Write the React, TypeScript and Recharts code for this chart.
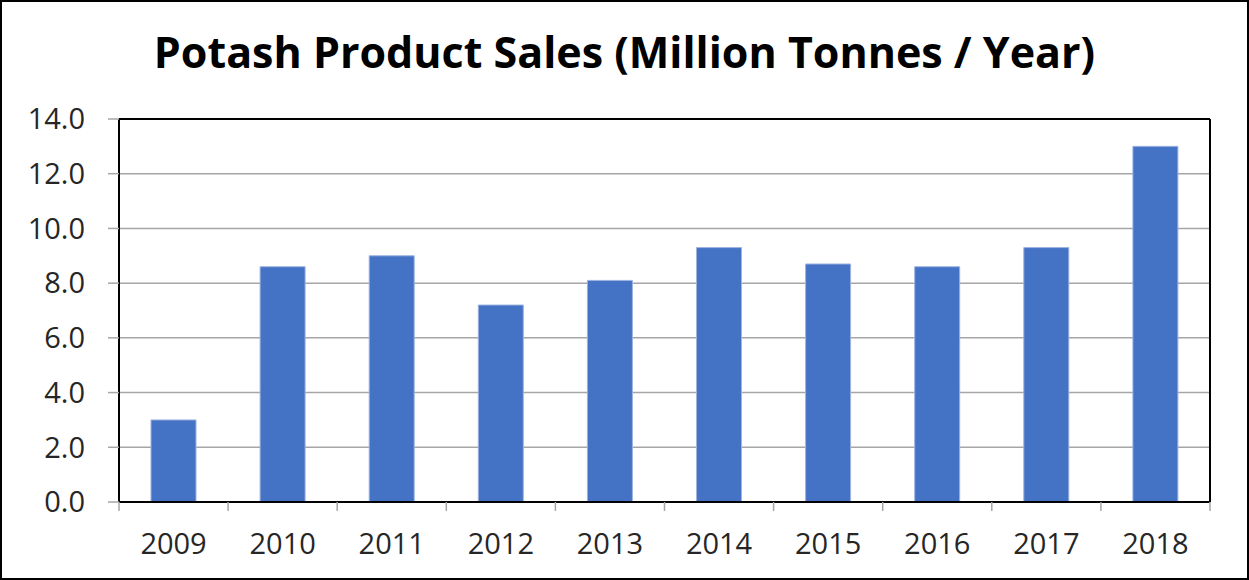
import React from 'react';
import { BarChart, Bar, XAxis, YAxis, CartesianGrid, ReferenceLine } from 'recharts';

const years = ['2009', '2010', '2011', '2012', '2013', '2014', '2015', '2016', '2017', '2018'];
const sales = [3.0, 8.6, 9.0, 7.2, 8.1, 9.3, 8.7, 8.6, 9.3, 13.0];
const yTicks = [0, 2, 4, 6, 8, 10, 12, 14];

const rows = years.map((year, i) => ({ year, sales: sales[i] }));

const FONT = '"Open Sans", sans-serif';
const GRID = '#a6a6a6';
const X_TICK = 9;
const X_MARGIN = 22;

// year label centred on the bar, tick marks on the category boundaries
const YearTick = (props: any) => {
  const { x, y, payload, index, visibleTicksCount } = props;
  const half = payload.offset || 0;
  const top = y - X_TICK - X_MARGIN;
  const isLast = index === visibleTicksCount - 1;
  return (
    <g>
      <line x1={x - half} x2={x - half} y1={top} y2={top + X_TICK} stroke={GRID} strokeWidth={1.5} />
      {isLast && (
        <line x1={x + half} x2={x + half} y1={top} y2={top + X_TICK} stroke={GRID} strokeWidth={1.5} />
      )}
      <text x={x} y={y} dy="0.71em" textAnchor="middle" fill="#262626" fontSize={29} fontFamily={FONT}>
        {payload.value}
      </text>
    </g>
  );
};

export default function App() {
  return (
    <div
      style={{
        position: 'absolute',
        left: 0,
        top: 0,
        width: 1249,
        height: 580,
        boxSizing: 'border-box',
        border: '2px solid #000',
        background: '#fff',
      }}
    >
      <div
        style={{
          position: 'absolute',
          left: 0,
          right: 0,
          top: 24,
          textAlign: 'center',
          fontFamily: FONT,
          fontWeight: 700,
          fontSize: 43,
          color: '#000',
          lineHeight: '52px',
          whiteSpace: 'nowrap',
        }}
      >
        Potash Product Sales (Million Tonnes / Year)
      </div>
      <div style={{ position: 'absolute', left: -2, top: -2 }}>
        <BarChart
          width={1249}
          height={580}
          data={rows}
          margin={{ top: 119, right: 39, bottom: 0, left: 0 }}
        >
          <CartesianGrid vertical={false} stroke={GRID} strokeWidth={1.5} yAxisId="left" xAxisId="cat" />
          <XAxis
            xAxisId="cat"
            dataKey="year"
            height={78}
            interval={0}
            axisLine={{ stroke: '#000', strokeWidth: 2 }}
            tickLine={false}
            tickSize={X_TICK}
            tickMargin={X_MARGIN}
            tick={<YearTick />}
          />
          <YAxis
            yAxisId="left"
            domain={[0, 14]}
            ticks={yTicks}
            width={119}
            interval={0}
            axisLine={{ stroke: '#000', strokeWidth: 2 }}
            tickLine={{ stroke: GRID, strokeWidth: 1.5 }}
            tickSize={11}
            tickMargin={23}
            tickFormatter={(v: number) => v.toFixed(1)}
            tick={{ fill: '#262626', fontSize: 29, fontFamily: FONT }}
          />
          <Bar
            dataKey="sales"
            xAxisId="cat"
            yAxisId="left"
            fill="#4472c4"
            stroke="#9db3e0"
            strokeWidth={1}
            barSize={45}
            isAnimationActive={false}
          />
          <ReferenceLine y={14} yAxisId="left" xAxisId="cat" stroke="#000" strokeWidth={2} />
          <ReferenceLine
            x={years[years.length - 1]}
            position="end"
            xAxisId="cat"
            yAxisId="left"
            stroke="#000"
            strokeWidth={2}
          />
        </BarChart>
      </div>
    </div>
  );
}
